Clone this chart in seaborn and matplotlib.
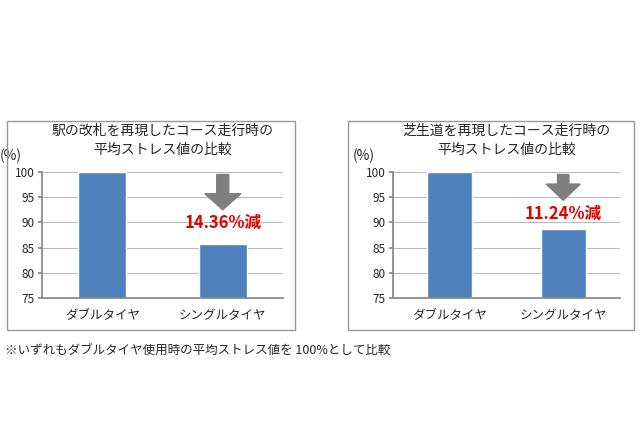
import matplotlib
matplotlib.use("Agg")
import matplotlib.pyplot as plt
import seaborn as sns
from matplotlib.patches import Rectangle, FancyArrow
import pandas as pd

sns.set_theme(style="white")
plt.rcParams['font.family'] = ['Noto Sans CJK JP', 'DejaVu Sans']

categories = ["ダブルタイヤ", "シングルタイヤ"]
values_left = [100, 85.64]
values_right = [100, 88.76]
titles = ["駅の改札を再現したコース走行時の\n平均ストレス値の比較",
          "芝生道を再現したコース走行時の\n平均ストレス値の比較"]
labels = ["14.36%減", "11.24%減"]
yticks = [75, 80, 85, 90, 95, 100]

W, H = 640, 426
fig = plt.figure(figsize=(6.4, 4.26), dpi=100)


def px(x0, y0, x1, y1):
    return [x0 / W, 1 - y1 / H, (x1 - x0) / W, (y1 - y0) / H]


def panel(box, ax_rect, vals, title, label, arrow_y):
    # frame
    fig.patches.append(Rectangle((box[0] / W, 1 - box[3] / H), (box[2] - box[0]) / W,
                                 (box[3] - box[1]) / H, transform=fig.transFigure,
                                 fill=False, edgecolor="#999999", lw=1))
    ax = fig.add_axes(px(*ax_rect))
    df = pd.DataFrame({"cat": categories, "val": vals})
    sns.barplot(data=df, x="cat", y="val", color="#4f81bd", saturation=1, width=0.4, ax=ax)
    ax.set_ylim(75, 100)
    ax.set_yticks(yticks)
    ax.set_xlim(-0.5, 1.5)
    ax.yaxis.grid(True, color="#bbbbbb", lw=0.8)
    ax.set_axisbelow(True)
    for s in ["top", "right"]:
        ax.spines[s].set_visible(False)
    ax.spines["left"].set_color("#888888")
    ax.spines["bottom"].set_color("#888888")
    ax.tick_params(axis="y", labelsize=8.5, length=3, color="#888888", left=True, pad=2)
    ax.tick_params(axis="x", labelsize=9, length=0, pad=8)
    ax.set_xlabel("")
    ax.set_ylabel("")
    ax.text(-0.13, 1.07, "(%)", transform=ax.transAxes, fontsize=10, ha="center", va="bottom")
    ax.text(0.5, 1.12, title, transform=ax.transAxes, fontsize=10, ha="center", va="bottom",
            linespacing=1.5)
    ax.add_patch(FancyArrow(1.0, 99.5, 0, -7.0 + arrow_y, width=0.1, head_width=0.3,
                            head_length=3.2, length_includes_head=True,
                            color="#7f7f7f", clip_on=False))
    ax.text(1.0, 90 - arrow_y - 0.6 if False else 89.8 + arrow_y, label, color="#e00000",
            fontsize=12, fontweight="bold", ha="center", va="center")
    return ax


panel((7, 121, 295, 330), (42, 172, 283, 298), values_left, titles[0], labels[0], 0)
panel((348, 121, 634, 330), (393, 172, 620, 298), values_right, titles[1], labels[1], 1.9)

fig.text(5 / W, 1 - 350 / H, "※いずれもダブルタイヤ使用時の平均ストレス値を 100%として比較",
         fontsize=9, ha="left", va="center")

fig.savefig("out.png", dpi=100, facecolor="white")
